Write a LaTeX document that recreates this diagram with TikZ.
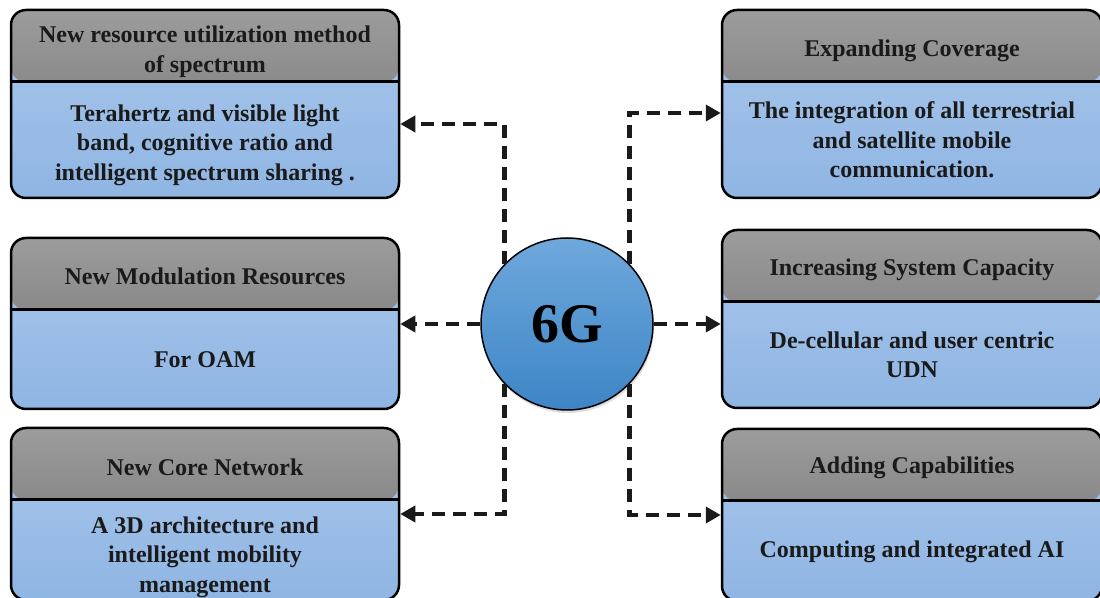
\documentclass[tikz,border=0pt]{standalone}
\usepackage{fontspec}
\setmainfont{Liberation Serif}
\usetikzlibrary{positioning, calc, arrows.meta, shadows}

\definecolor{headtop}{HTML}{9C9C9C}
\definecolor{headbot}{HTML}{6F6F6F}
\definecolor{bodytop}{HTML}{AAC8EC}
\definecolor{bodybot}{HTML}{8FB5E3}
\definecolor{gtop}{HTML}{6FA8DC}
\definecolor{gbot}{HTML}{3D85C6}
\definecolor{ink}{HTML}{1A1A1A}

\begin{document}
\begin{tikzpicture}[
x=1pt, y=1pt,
card/.style={rectangle,
  draw=black,
  line width=2.5pt,
  rounded corners=15pt,
  top color=bodytop, bottom color=bodybot,
  path picture={
    \shade[top color=headtop, bottom color=headbot]
      (path picture bounding box.north west) rectangle ([yshift=-72pt]path picture bounding box.north east);
    \draw[line width=3pt]
      ([yshift=-72pt]path picture bounding box.north west) -- ([yshift=-72pt]path picture bounding box.north east);
  },
},
cardtxt/.style={
  align=center,
  text=ink,
  font=\fontsize{24}{29.5}\selectfont\bfseries,
},
conn/.style={->,
  draw=ink,
  line width=4.5pt,
  dash pattern=on 13pt off 8pt,
},
>={Triangle[length=15pt,width=16pt]}
]
\useasboundingbox (0,0) rectangle (1100,597);

% centre
\node[circle, draw=black, line width=1.5pt, minimum size=172pt,
  top color=gtop, bottom color=gbot,
  drop shadow={opacity=0.25, shadow xshift=1pt, shadow yshift=-3pt},
  font=\fontsize{56}{60}\selectfont\bfseries] (sixg) at (567,273) {6G};

% left cards
\node[card, minimum width=388pt, minimum height=188pt] (spec) at (205,493) {};
\node[card, minimum width=388pt, minimum height=171pt] (modu) at (205,273.5) {};
\node[card, minimum width=388pt, minimum height=172pt] (core) at (205,83) {};

% right cards
\node[card, minimum width=380pt, minimum height=188pt] (cover) at (912,493) {};
\node[card, minimum width=380pt, minimum height=178pt] (capa) at (912,278) {};
\node[card, minimum width=380pt, minimum height=172pt] (abil) at (912,82) {};

% titles
\node[cardtxt] (spec-h) at ([yshift=-43pt]spec.north)
    {New resource utilization method\\of spectrum};
\node[cardtxt] (modu-h) at ([yshift=-40pt]modu.north)
    {New Modulation Resources};
\node[cardtxt] (core-h) at ([yshift=-41pt]core.north)
    {New Core Network};
\node[cardtxt] (cover-h) at ([yshift=-42pt]cover.north)
    {Expanding Coverage};
\node[cardtxt] (capa-h) at ([yshift=-41pt]capa.north)
    {Increasing System Capacity};
\node[cardtxt] (abil-h) at ([yshift=-40pt]abil.north)
    {Adding Capabilities};

% contents
\node[cardtxt, yshift=-5pt] (spec-b) at ($(spec.south)!0.5!([yshift=-72pt]spec.north)$)
    {Terahertz and visible light\\band, cognitive ratio and\\intelligent spectrum sharing .};
\node[cardtxt] (modu-b) at ($(modu.south)!0.5!([yshift=-72pt]modu.north)$)
    {For OAM};
\node[cardtxt, yshift=-7pt] (core-b) at ($(core.south)!0.5!([yshift=-72pt]core.north)$)
    {A 3D architecture and\\intelligent mobility\\management};
\node[cardtxt] (cover-b) at ($(cover.south)!0.5!([yshift=-72pt]cover.north)$)
    {The integration of all terrestrial\\and satellite mobile\\communication.};
\node[cardtxt] (capa-b) at ($(capa.south)!0.5!([yshift=-72pt]capa.north)$)
    {De-cellular and user centric\\UDN};
\node[cardtxt, yshift=-1pt] (abil-b) at ($(abil.south)!0.5!([yshift=-72pt]abil.north)$)
    {Computing and integrated AI};

% links
\draw[conn] (sixg.136) |- ([yshift=-20pt]spec.east);
\draw[conn] (sixg.west) -- (sixg.west -| modu.east);
\draw[conn] (sixg.224) |- (core.east);
\draw[conn] (sixg.44) |- ([yshift=-9pt]cover.west);
\draw[conn] (sixg.east) -- (sixg.east -| capa.west);
\draw[conn] (sixg.316) |- (abil.west);
\end{tikzpicture}
\end{document}
